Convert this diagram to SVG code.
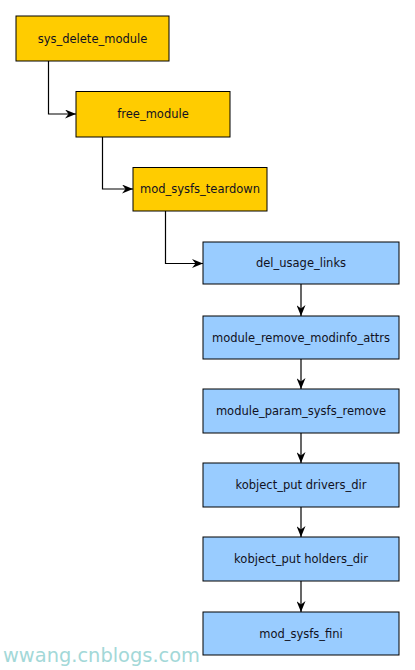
<svg xmlns="http://www.w3.org/2000/svg" width="415" height="670" viewBox="0 0 415 670">
<style>
.y{fill:#FFCC00;stroke:#000;stroke-width:1}
.b{fill:#99CCFF;stroke:#000;stroke-width:1}
.t{font-family:"DejaVu Sans",sans-serif;font-size:11.5px;fill:#111122;text-anchor:middle}
.c{fill:none;stroke:#000;stroke-width:1.2;marker-end:url(#ah)}
</style>
<defs>
<marker id="ah" viewBox="0 0 11 9" refX="11" refY="4.5" markerWidth="11" markerHeight="9" markerUnits="userSpaceOnUse" orient="auto">
<path d="M0,0 L11,4.5 L0,9 L3.5,4.5 Z" fill="#000"/>
</marker>
</defs>
<rect width="415" height="670" fill="#fff"/>
<g id="connectors">
<path class="c" d="M48.5,61 V114 H76"/>
<path class="c" d="M102.5,137 V189 H133"/>
<path class="c" d="M165.5,211 V263.5 H203"/>
<path class="c" d="M301,284 V316"/>
<path class="c" d="M301,359 V389"/>
<path class="c" d="M301,433 V463"/>
<path class="c" d="M301,507 V537"/>
<path class="c" d="M301,581 V612"/>
</g>
<g id="sys_delete_module"><rect class="y" x="16" y="16" width="153" height="45"/><text class="t" x="92.5" y="42.5">sys_delete_module</text></g>
<g id="free_module"><rect class="y" x="76" y="91.5" width="154" height="45.5"/><text class="t" x="153" y="118">free_module</text></g>
<g id="mod_sysfs_teardown"><rect class="y" x="133" y="167.5" width="134" height="43.5"/><text class="t" x="200" y="193">mod_sysfs_teardown</text></g>
<g id="del_usage_links"><rect class="b" x="203" y="242" width="196" height="42"/><text class="t" x="301" y="267">del_usage_links</text></g>
<g id="module_remove_modinfo_attrs"><rect class="b" x="203" y="316" width="196" height="43"/><text class="t" x="301" y="341.5">module_remove_modinfo_attrs</text></g>
<g id="module_param_sysfs_remove"><rect class="b" x="203" y="389" width="196" height="44"/><text class="t" x="301" y="415">module_param_sysfs_remove</text></g>
<g id="kobject_put_drivers_dir"><rect class="b" x="203" y="463" width="196" height="44"/><text class="t" x="301" y="489">kobject_put drivers_dir</text></g>
<g id="kobject_put_holders_dir"><rect class="b" x="203" y="537" width="196" height="44"/><text class="t" x="301" y="563">kobject_put holders_dir</text></g>
<g id="mod_sysfs_fini"><rect class="b" x="203" y="612" width="196" height="43"/><text class="t" x="301" y="637.5">mod_sysfs_fini</text></g>
<text x="3" y="662" font-family="DejaVu Sans,sans-serif" font-size="19.5" fill="#a3d8d8" textLength="197" lengthAdjust="spacingAndGlyphs">wwang.cnblogs.com</text>
</svg>
